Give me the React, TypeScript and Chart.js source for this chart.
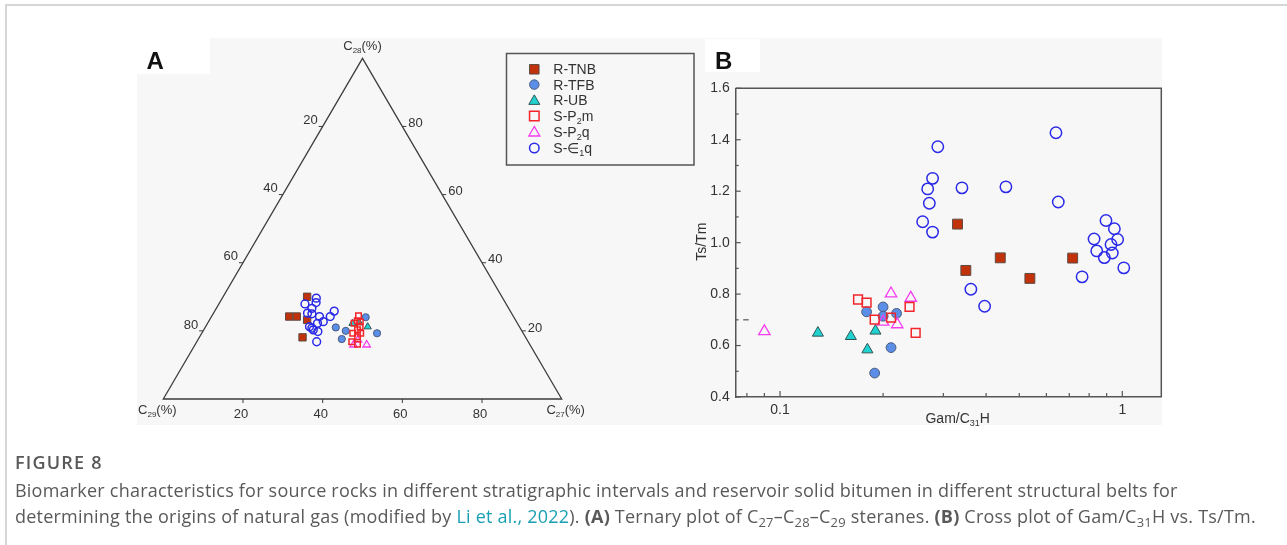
import React, { useEffect, useRef } from 'react';
import { Chart, registerables } from 'chart.js';
Chart.register(...registerables);

const FONT = '"Liberation Sans", Arial, Helvetica, sans-serif';
const W = 1287;
const H = 545;

// ---------- Panel A: ternary C27 / C28 / C29 (%) ----------
const ternTNB = [[21.1, 30.0, 48.9], [19.5, 24.2, 56.3], [21.4, 24.2, 54.4], [24.5, 23.2, 52.3], [25.9, 18.1, 56.0]];
const ternTFB = [[32.8, 21.0, 46.2], [35.8, 20.0, 44.2], [36.0, 17.6, 46.4], [38.8, 24.0, 37.2], [44.0, 19.3, 36.7]];
const ternUB = [[36.4, 22.2, 41.4], [38.0, 22.4, 39.6], [40.7, 21.2, 38.1]];
const ternP2m = [[36.8, 24.4, 38.8], [37.2, 23.0, 39.8], [38.1, 22.7, 39.2], [36.8, 22.2, 41.0], [38.8, 21.2, 40.0], [38.6, 20.3, 41.1], [37.9, 19.3, 42.8], [39.9, 19.3, 40.8], [39.6, 18.3, 42.1], [38.9, 16.8, 44.3], [40.7, 16.1, 43.2]];
const ternP2q = [[39.8, 15.9, 44.3], [40.2, 17.3, 42.5], [43.1, 15.9, 41.0]];
const ternE1q = [[23.6, 29.6, 46.8], [24.2, 28.3, 47.5], [21.6, 27.9, 50.5], [24.0, 26.6, 49.4], [23.6, 25.2, 51.2], [24.8, 25.0, 50.2], [27.1, 24.2, 48.7], [28.8, 22.7, 48.5], [29.8, 24.2, 46.0], [30.0, 25.8, 44.2], [27.6, 22.2, 50.2], [26.1, 21.2, 52.7], [27.5, 20.3, 52.2], [28.9, 19.8, 51.3], [30.1, 16.8, 53.1], [26.9, 20.8, 52.3]];
const ternTickValues = [20, 40, 60, 80];
const ternTickLabels = ['20', '40', '60', '80'];

// ---------- Panel B: Gam/C31H vs Ts/Tm ----------
const bTNB = [[0.330, 1.072], [0.440, 0.941], [0.349, 0.892], [0.537, 0.861], [0.716, 0.940]];
const bTFB = [[0.179, 0.731], [0.200, 0.750], [0.200, 0.714], [0.219, 0.725], [0.211, 0.592], [0.189, 0.493]];
const bUB = [[0.129, 0.649], [0.161, 0.636], [0.180, 0.584], [0.190, 0.657]];
const bP2m = [[0.169, 0.779], [0.179, 0.767], [0.189, 0.701], [0.211, 0.709], [0.239, 0.750], [0.249, 0.649]];
const bP2q = [[0.090, 0.655], [0.211, 0.802], [0.241, 0.785], [0.200, 0.692], [0.220, 0.682]];
const bE1q = [[0.289, 1.373], [0.640, 1.427], [0.279, 1.250], [0.270, 1.209], [0.340, 1.213], [0.457, 1.217], [0.273, 1.153], [0.650, 1.158], [0.261, 1.081], [0.279, 1.041], [0.896, 1.086], [0.948, 1.054], [0.827, 1.014], [0.969, 1.012], [0.927, 0.993], [0.842, 0.968], [0.935, 0.960], [0.886, 0.942], [1.010, 0.902], [0.763, 0.867], [0.361, 0.819], [0.396, 0.753]];
const xTickValues = [0.08, 0.09, 0.1, 0.2, 0.3, 0.4, 0.5, 0.6, 0.7, 0.8, 0.9, 1];
const xMajorValues = [0.1, 1];
const xMajorLabels = ['0.1', '1'];
const yTickValues = [0.4, 0.5, 0.6, 0.7, 0.8, 0.9, 1.0, 1.1, 1.2, 1.3, 1.4, 1.5, 1.6];
const yMajorValues = [0.4, 0.6, 0.8, 1.0, 1.2, 1.4, 1.6];
const yMajorLabels = ['0.4', '0.6', '0.8', '1.0', '1.2', '1.4', '1.6'];

type Part = [string, boolean];
const seriesNames = ['R-TNB', 'R-TFB', 'R-UB', 'S-P2m', 'S-P2q', 'S-∈1q'];
const legendLabels: Part[][] = [
  [['R-TNB', false]],
  [['R-TFB', false]],
  [['R-UB', false]],
  [['S-P', false], ['2', true], ['m', false]],
  [['S-P', false], ['2', true], ['q', false]],
  [['S-∈', false], ['1', true], ['q', false]],
];

const styles = [
  { shape: 'rect', fill: '#c1320b', stroke: '#5e4b44', lw: 1 },
  { shape: 'circle', fill: '#5b8ee6', stroke: '#4b5b7d', lw: 1 },
  { shape: 'triangle', fill: '#20d2d0', stroke: '#2f5656', lw: 1 },
  { shape: 'rect', fill: 'rgba(0,0,0,0)', stroke: '#f2262a', lw: 1.5 },
  { shape: 'triangle', fill: 'rgba(0,0,0,0)', stroke: '#f53cf0', lw: 1.3 },
  { shape: 'circle', fill: 'rgba(0,0,0,0)', stroke: '#2a2ae8', lw: 1.5 },
];
const drawOrder = [5, 4, 3, 0, 1, 2];
const radiusA = [5.2, 3.6, 4.2, 3.9, 4.3, 3.9];
const radiusB = [7.0, 4.9, 6.4, 6.2, 6.6, 5.7];

function drawRich(ctx: CanvasRenderingContext2D, parts: Part[], x: number, y: number, size: number, align: string, color: string, bold = false) {
  const subSize = Math.round(size * 0.62);
  const widths: number[] = [];
  let total = 0;
  for (const [t, sub] of parts) {
    ctx.font = `${bold ? 'bold ' : ''}${sub ? subSize : size}px ${FONT}`;
    const w = ctx.measureText(t).width;
    widths.push(w);
    total += w;
  }
  let cx = align === 'left' ? x : align === 'center' ? x - total / 2 : x - total;
  ctx.fillStyle = color;
  ctx.textAlign = 'left';
  ctx.textBaseline = 'alphabetic';
  const base = y + size * 0.36;
  parts.forEach(([t, sub], i) => {
    ctx.font = `${bold ? 'bold ' : ''}${sub ? subSize : size}px ${FONT}`;
    ctx.fillText(t, cx, base + (sub ? size * 0.22 : 0));
    cx += widths[i];
  });
}

function drawMarker(ctx: CanvasRenderingContext2D, i: number, x: number, y: number, s: number) {
  const st = styles[i];
  ctx.save();
  ctx.beginPath();
  if (st.shape === 'rect') {
    ctx.rect(x - s / 2, y - s / 2, s, s);
  } else if (st.shape === 'circle') {
    ctx.arc(x, y, s / 2, 0, Math.PI * 2);
  } else {
    const r = s / 1.732;
    ctx.moveTo(x, y - r);
    ctx.lineTo(x + 0.866 * r, y + 0.5 * r);
    ctx.lineTo(x - 0.866 * r, y + 0.5 * r);
    ctx.closePath();
  }
  ctx.fillStyle = st.fill;
  ctx.fill();
  ctx.lineWidth = st.lw;
  ctx.strokeStyle = st.stroke;
  ctx.stroke();
  ctx.restore();
}

const ternaryPlugin = {
  id: 'ternary',
  beforeDatasetsDraw(chart: any) {
    const { ctx } = chart;
    const xs = chart.scales.x;
    const ys = chart.scales.y;
    const P = (tx: number, ty: number) => [xs.getPixelForValue(tx), ys.getPixelForValue(ty)];
    ctx.save();
    ctx.strokeStyle = '#3d3d3d';
    ctx.lineWidth = 1.3;
    ctx.beginPath();
    const a = P(0, 0), b = P(100, 0), c = P(50, 100);
    ctx.moveTo(a[0], a[1]);
    ctx.lineTo(b[0], b[1]);
    ctx.lineTo(c[0], c[1]);
    ctx.closePath();
    ctx.stroke();
    ctx.lineWidth = 1;
    ternTickValues.forEach((v, i) => {
      const lab = ternTickLabels[i];
      // bottom edge: C27
      const [bx, by] = P(v, 0);
      ctx.beginPath(); ctx.moveTo(bx, by); ctx.lineTo(bx, by + 4); ctx.stroke();
      drawRich(ctx, [[lab, false]], bx - 2, by + 14, 13, 'center', '#333');
      // left edge: C29
      const [lx, ly] = P((100 - v) / 2, 100 - v);
      ctx.beginPath(); ctx.moveTo(lx, ly); ctx.lineTo(lx - 4, ly); ctx.stroke();
      drawRich(ctx, [[lab, false]], lx - 5, ly - 7, 13, 'right', '#333');
      // right edge: C28
      const [rx, ry] = P(100 - v / 2, v);
      ctx.beginPath(); ctx.moveTo(rx, ry); ctx.lineTo(rx + 4, ry); ctx.stroke();
      drawRich(ctx, [[lab, false]], rx + 6, ry - 4, 13, 'left', '#333');
    });
    drawRich(ctx, [['C', false], ['28', true], ['(%)', false]], c[0], c[1] - 13, 13, 'center', '#333');
    drawRich(ctx, [['C', false], ['29', true], ['(%)', false]], a[0] - 6, a[1] + 10, 13, 'center', '#333');
    drawRich(ctx, [['C', false], ['27', true], ['(%)', false]], b[0] + 4, b[1] + 10, 13, 'center', '#333');
    // panel letter
    drawRich(ctx, [['A', false]], 146.5, 60, 24, 'left', '#111', true);
    ctx.restore();
  },
  afterDraw(chart: any) {
    const { ctx } = chart;
    ctx.save();
    ctx.strokeStyle = '#555';
    ctx.lineWidth = 1.5;
    ctx.strokeRect(506.5, 53.5, 187.5, 111.5);
    const rows = [69.3, 84.6, 100.2, 116, 131.8, 148];
    rows.forEach((ry, i) => {
      const s = styles[i].shape === 'triangle' ? 11 : 9.5;
      drawMarker(ctx, i, 534.3, ry + (styles[i].shape === 'triangle' ? 1 : 0), s);
      drawRich(ctx, legendLabels[i], 553.3, ry, 14, 'left', '#333');
    });
    ctx.restore();
  },
};

const frameBPlugin = {
  id: 'frameB',
  beforeDatasetsDraw(chart: any) {
    const { ctx, chartArea } = chart;
    const { left, right, top, bottom } = chartArea;
    const xs = chart.scales.x;
    const ys = chart.scales.y;
    ctx.save();
    ctx.strokeStyle = '#555';
    ctx.lineWidth = 1.5;
    ctx.beginPath();
    ctx.moveTo(left, top);
    ctx.lineTo(right, top);
    ctx.lineTo(right, bottom);
    ctx.stroke();
    ctx.lineWidth = 1.2;
    xTickValues.forEach((v) => {
      const px = xs.getPixelForValue(v);
      const len = xMajorValues.includes(v) ? 6 : 4;
      ctx.beginPath(); ctx.moveTo(px, bottom); ctx.lineTo(px, bottom - len); ctx.stroke();
    });
    yTickValues.forEach((v) => {
      const py = ys.getPixelForValue(v);
      const len = yMajorValues.includes(v) ? 5 : 3;
      ctx.beginPath(); ctx.moveTo(left, py); ctx.lineTo(left + len, py); ctx.stroke();
    });
    // small stray dash in the original artwork
    const dy = ys.getPixelForValue(0.7);
    ctx.beginPath(); ctx.moveTo(left + 7.5, dy); ctx.lineTo(left + 13, dy); ctx.stroke();
    // axis titles
    ctx.save();
    ctx.translate(left - 35, (top + bottom) / 2 - 1);
    ctx.rotate(-Math.PI / 2);
    drawRich(ctx, [['Ts/Tm', false]], 0, 0, 14, 'center', '#333');
    ctx.restore();
    drawRich(ctx, [['Gam/C', false], ['31', true], ['H', false]], left + 222, bottom + 21, 14, 'center', '#333');
    drawRich(ctx, [['B', false]], 715, 60, 24, 'left', '#111', true);
    ctx.restore();
  },
};

function makeDatasets(series: number[][][], radius: number[], map: (p: number[]) => { x: number; y: number }) {
  return series.map((s, i) => ({
    label: seriesNames[i],
    data: s.map(map),
    pointStyle: styles[i].shape,
    pointRadius: radius[i],
    pointHoverRadius: radius[i],
    backgroundColor: styles[i].fill,
    borderColor: styles[i].stroke,
    borderWidth: styles[i].lw,
    order: drawOrder[i],
  }));
}

export default function App() {
  const refA = useRef<HTMLCanvasElement>(null);
  const refB = useRef<HTMLCanvasElement>(null);

  useEffect(() => {
    const chartA = new Chart(refA.current as HTMLCanvasElement, {
      type: 'scatter',
      data: {
        datasets: makeDatasets([ternTNB, ternTFB, ternUB, ternP2m, ternP2q, ternE1q], radiusA, (p) => ({ x: p[0] + p[1] / 2, y: p[1] })) as any,
      },
      options: {
        responsive: false,
        animation: false,
        devicePixelRatio: 1,
        events: [],
        layout: { padding: { left: 163.3, right: W - 561.7, top: 58.3, bottom: H - 399 } },
        scales: {
          x: { type: 'linear', min: 0, max: 100, display: false },
          y: { type: 'linear', min: 0, max: 100, display: false },
        },
        plugins: { legend: { display: false }, tooltip: { enabled: false } },
      },
      plugins: [ternaryPlugin],
    } as any);

    const chartB = new Chart(refB.current as HTMLCanvasElement, {
      type: 'scatter',
      data: {
        datasets: makeDatasets([bTNB, bTFB, bUB, bP2m, bP2q, bE1q], radiusB, (p) => ({ x: p[0], y: p[1] })) as any,
      },
      options: {
        responsive: false,
        animation: false,
        devicePixelRatio: 1,
        events: [],
        layout: { padding: { left: 735.7 - 50, right: W - 1161.3, top: 88.3, bottom: H - 397 - 30 } },
        scales: {
          x: {
            type: 'logarithmic',
            min: 0.0742,
            max: 1.3,
            afterBuildTicks: (s: any) => { s.ticks = xTickValues.map((v) => ({ value: v })); },
            afterFit: (s: any) => { s.height = 30; },
            grid: { display: false, drawTicks: false },
            border: { display: true, color: '#555', width: 1.5 },
            ticks: {
              autoSkip: false,
              maxRotation: 0,
              padding: 5,
              color: '#333',
              font: { family: FONT, size: 14 },
              callback: (v: any) => {
                const k = xMajorValues.indexOf(Number(v));
                return k >= 0 ? xMajorLabels[k] : '';
              },
            },
          },
          y: {
            type: 'linear',
            min: 0.4,
            max: 1.6,
            afterBuildTicks: (s: any) => { s.ticks = yMajorValues.map((v) => ({ value: v })); },
            afterFit: (s: any) => { s.width = 50; },
            grid: { display: false, drawTicks: false },
            border: { display: true, color: '#555', width: 1.5 },
            ticks: {
              autoSkip: false,
              padding: 6,
              color: '#333',
              font: { family: FONT, size: 14 },
              callback: (v: any, i: number) => yMajorLabels[i],
            },
          },
        },
        plugins: { legend: { display: false }, tooltip: { enabled: false } },
      },
      plugins: [frameBPlugin],
    } as any);

    return () => {
      chartA.destroy();
      chartB.destroy();
    };
  }, []);

  const canvasStyle: React.CSSProperties = { position: 'absolute', left: 0, top: 0, width: W, height: H };
  const cap: React.CSSProperties = { position: 'absolute', left: 15, whiteSpace: 'nowrap', fontFamily: '"Open Sans", "Noto Sans", sans-serif', color: '#595959' };
  const sub: React.CSSProperties = { fontSize: '0.72em', verticalAlign: '-0.3em', lineHeight: 0 };

  return (
    <div style={{ position: 'fixed', left: 0, top: 0, width: W, height: H, background: '#fff', overflow: 'hidden' }}>
      <div style={{ position: 'absolute', left: 5, top: 4, width: W + 10, height: H + 10, borderTop: '2px solid #d6d6d6', borderLeft: '2px solid #d6d6d6' }} />
      <div style={{ position: 'absolute', left: 137, top: 38, width: 1025, height: 387, background: '#f7f7f7' }} />
      <div style={{ position: 'absolute', left: 137, top: 38, width: 73, height: 36, background: '#fff' }} />
      <div style={{ position: 'absolute', left: 705, top: 39, width: 55, height: 33, background: '#fff' }} />
      <canvas ref={refA} width={W} height={H} style={canvasStyle} />
      <canvas ref={refB} width={W} height={H} style={canvasStyle} />
      <div style={{ ...cap, top: 451, fontSize: 18, lineHeight: '22px', fontWeight: 600, letterSpacing: 1.2 }}>FIGURE 8</div>
      <div style={{ ...cap, top: 477, fontSize: 18, lineHeight: '26px', letterSpacing: 0.22 }}>
        Biomarker characteristics for source rocks in different stratigraphic intervals and reservoir solid bitumen in different structural belts for
        <br />
        determining the origins of natural gas (modified by <span style={{ color: '#1aa0b4' }}>Li et al., 2022</span>). <b>(A)</b> Ternary plot of C<span style={sub}>27</span>–C<span style={sub}>28</span>–C<span style={sub}>29</span> steranes. <b>(B)</b> Cross plot of Gam/C<span style={sub}>31</span>H vs. Ts/Tm.
      </div>
    </div>
  );
}
